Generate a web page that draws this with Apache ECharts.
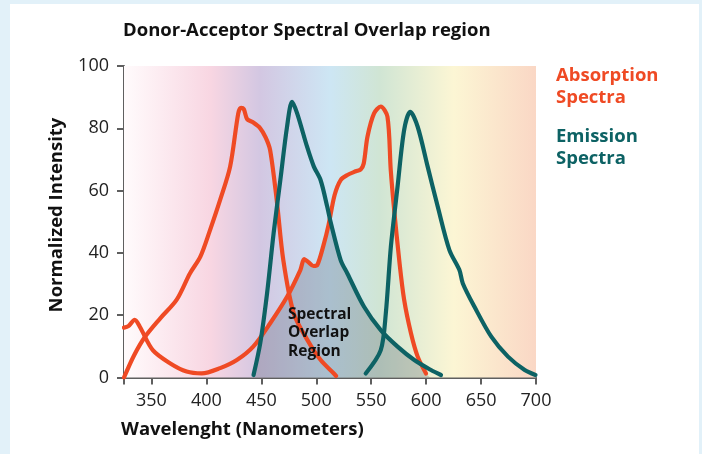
<!DOCTYPE html>
<html>
<head>
<meta charset="utf-8">
<script src="https://cdn.jsdelivr.net/npm/echarts@6/dist/echarts.min.js"></script>
<style>
  html, body { margin: 0; padding: 0; }
  #wrap { position: relative; width: 702px; height: 454px; background: #e2f1f9; overflow: hidden; }
  #panel { position: absolute; left: 10px; top: 4px; width: 689px; height: 450px; background: #ffffff; }
  #chart { position: absolute; left: 0; top: 0; width: 702px; height: 454px; }
</style>
</head>
<body>
<div id="wrap"><div id="panel"></div><div id="chart"></div></div>
<script>
// ---- data (wavelength nm, normalized intensity) ----
const wavelengthTicks = [350, 400, 450, 500, 550, 600, 650, 700];
const intensityTicks = [0, 20, 40, 60, 80, 100];

const cfpAbsorption = [
  [325, 0], [334, 7], [344, 13], [358, 19], [373, 25], [385, 33.4], [394.5, 38.8],
  [403, 47], [412.5, 57], [421.6, 67.7], [429, 84.8], [431.5, 86.6], [434, 86.2],
  [437, 83], [442, 82], [449, 80], [454, 77], [458, 73], [464, 57], [470, 37.7],
  [479.5, 20.6], [492, 12], [504, 5.6], [516, 1.3], [518, 0.5]
];
const dsrfpAbsorption = [
  [325, 16], [329, 16.5], [334.8, 18.5], [339.4, 16.3], [351.2, 8.8], [366.8, 4.6],
  [382, 1.9], [395.8, 1.3], [412.5, 3], [427.7, 5.6], [442.6, 9.9], [458.2, 17.5],
  [473.4, 25.9], [485.5, 34.5], [489, 38], [493, 37], [497.5, 35.8], [500.9, 36.1],
  [506.6, 42.5], [511.2, 49], [516.7, 58.6], [522.2, 63.4], [528.3, 65], [536, 66.2],
  [540.4, 66.8], [543.2, 68.7], [546.6, 77.3], [552.6, 84.8], [558.7, 87],
  [564.8, 83.7], [567.8, 66.6], [570.9, 53.8], [575.5, 37.7], [580, 24.9],
  [586.2, 14.2], [592.3, 6.7], [599.9, 1.3]
];
const cfpEmission = [
  [442.9, 0.8], [449, 11], [455.2, 27], [461.2, 46.4], [467.3, 63.4], [473.4, 80.5],
  [478, 88.5], [482.6, 84.8], [491.7, 74], [497.8, 67.7], [503.9, 63.4], [510, 54.8],
  [513, 50], [522.2, 37.7], [528.3, 33.4], [543.5, 22.7], [558.7, 15.2], [574, 9.9],
  [589.2, 5.6], [604.4, 2.4], [613.5, 0.8]
];
const dsrfpEmission = [
  [545, 1.3], [558.7, 8.8], [563.3, 20.6], [567.9, 42], [574, 61.3], [580, 79.5],
  [585.5, 85.3], [592.3, 80.5], [601.4, 67.7], [610.6, 54.8], [621.2, 40.9],
  [630.3, 34.5], [633.4, 30.2], [644, 22.7], [659.3, 13.1], [674.5, 6.7],
  [689.7, 2.4], [699.5, 0.8]
];

// overlap region: minimum of CFP emission and DsRFP absorption
function valueAt(arr, x) {
  if (x < arr[0][0] || x > arr[arr.length - 1][0]) return 0;
  for (let i = 1; i < arr.length; i++) {
    if (x <= arr[i][0]) {
      const [x0, y0] = arr[i - 1], [x1, y1] = arr[i];
      return y0 + (y1 - y0) * (x - x0) / (x1 - x0);
    }
  }
  return 0;
}
const overlapXs = Array.from(new Set(
  cfpEmission.map(p => p[0]).concat(dsrfpAbsorption.map(p => p[0]))
)).filter(x => x >= cfpEmission[0][0] && x <= cfpEmission[cfpEmission.length - 1][0])
  .sort((a, b) => a - b);
const overlapRegion = overlapXs.map(x => [x, Math.min(valueAt(cfpEmission, x), valueAt(dsrfpAbsorption, x))]);

const RED = '#ef4a24';
const TEAL = '#0d6264';
const FONT = '"Open Sans", Lato, sans-serif';

const chart = echarts.init(document.getElementById('chart'), null, { renderer: 'canvas' });

const spectrum = new echarts.graphic.LinearGradient(0, 0, 1, 0, [
  { offset: 0.00, color: '#fffbfc' },
  { offset: 0.21, color: '#f8d6e2' },
  { offset: 0.33, color: '#d3c7e2' },
  { offset: 0.50, color: '#cde6f4' },
  { offset: 0.62, color: '#d0e5d4' },
  { offset: 0.80, color: '#fcf6d4' },
  { offset: 1.00, color: '#fad7c5' }
]);

const lineSeries = (name, data, color) => ({
  name, type: 'line', data, smooth: 0.3, showSymbol: false, symbol: 'none',
  lineStyle: { color, width: 4.2, cap: 'round', join: 'round' }, z: 5, silent: true
});

chart.setOption({
  animation: false,
  grid: { left: 124, right: 166, top: 66, bottom: 76.5, containLabel: false },
  title: {
    text: 'Donor-Acceptor Spectral Overlap region',
    left: 118, top: 16,
    textStyle: { fontFamily: FONT, fontWeight: 'bold', fontSize: 18.5, color: '#111' }
  },
  xAxis: {
    type: 'value', min: 325, max: 700,
    axisLine: { show: true, lineStyle: { color: '#5f5f5f', width: 2 } },
    axisTick: { show: true, length: 7, lineStyle: { color: '#5f5f5f', width: 2 },
      customValues: [325].concat(wavelengthTicks) },
    axisLabel: { customValues: wavelengthTicks, fontFamily: FONT, fontSize: 18, color: '#222', margin: 14 },
    splitLine: { show: false }
  },
  yAxis: {
    type: 'value', min: 0, max: 100, interval: 20,
    axisLine: { show: true, lineStyle: { color: '#5f5f5f', width: 2 } },
    axisTick: { show: true, length: 7, lineStyle: { color: '#5f5f5f', width: 2 } },
    axisLabel: { customValues: intensityTicks, fontFamily: FONT, fontSize: 18, color: '#222', margin: 15 },
    splitLine: { show: false }
  },
  series: [
    {
      name: 'background', type: 'line', data: [], silent: true,
      markArea: {
        silent: true,
        itemStyle: { color: spectrum },
        data: [[{ xAxis: 325, yAxis: 0 }, { xAxis: 700, yAxis: 100 }]]
      }
    },
    {
      name: 'Spectral Overlap Region', type: 'line', data: overlapRegion, smooth: 0.3,
      showSymbol: false, symbol: 'none', lineStyle: { width: 0 },
      areaStyle: { color: 'rgba(66,76,92,0.36)', origin: 'start' }, z: 3, silent: true
    },
    lineSeries('CFP absorption', cfpAbsorption, RED),
    lineSeries('DsRFP absorption', dsrfpAbsorption, RED),
    lineSeries('CFP emission', cfpEmission, TEAL),
    lineSeries('DsRFP emission', dsrfpEmission, TEAL)
  ],
  graphic: [
    { type: 'text', x: 57, y: 215, rotation: Math.PI / 2, style: { text: 'Normalized Intensity', align: 'center', verticalAlign: 'middle', fontFamily: FONT, fontWeight: 'bold', fontSize: 18.5, fill: '#111' } },
    { type: 'text', left: 121, top: 420, style: { text: 'Wavelenght (Nanometers)', fontFamily: FONT, fontWeight: 'bold', fontSize: 18.5, fill: '#111' } },
    { type: 'text', left: 250, top: 76, style: { text: 'CFP', fontFamily: FONT, fontWeight: 'bold', fontSize: 17, fill: '#111' } },
    { type: 'text', left: 368, top: 76, style: { text: 'DsRFP', fontFamily: FONT, fontWeight: 'bold', fontSize: 17, fill: '#111' } },
    { type: 'text', left: 288, top: 305, z: 100, style: { text: 'Spectral\nOverlap\nRegion', lineHeight: 18.5, fontFamily: FONT, fontWeight: 'bold', fontSize: 15.5, fill: '#111' } },
    { type: 'text', left: 556, top: 65, style: { text: 'Absorption\nSpectra', lineHeight: 22, fontFamily: FONT, fontWeight: 'bold', fontSize: 18.5, fill: RED } },
    { type: 'text', left: 556, top: 126, style: { text: 'Emission\nSpectra', lineHeight: 22, fontFamily: FONT, fontWeight: 'bold', fontSize: 18.5, fill: TEAL } }
  ]
});
</script>
</body>
</html>
